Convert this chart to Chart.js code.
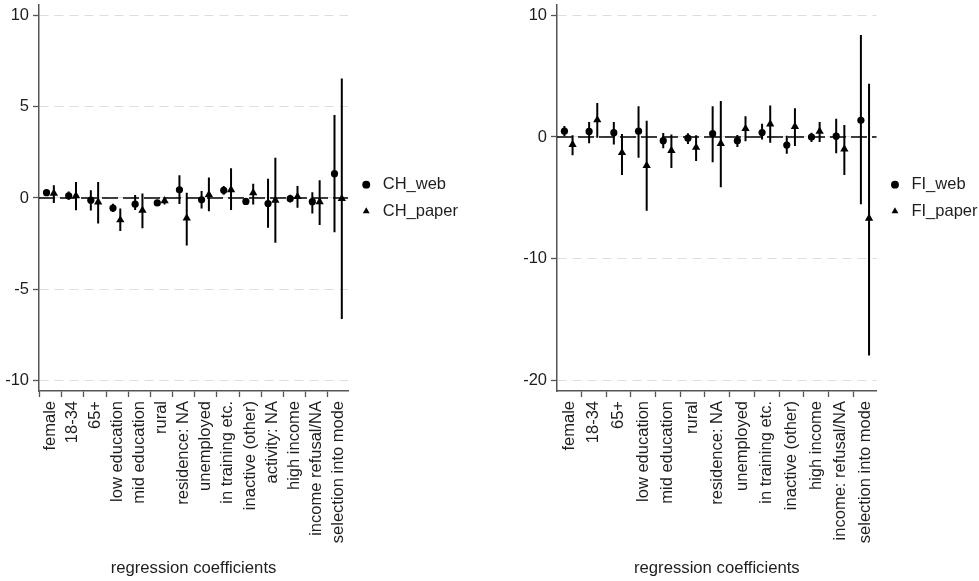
<!DOCTYPE html>
<html>
<head>
<meta charset="utf-8">
<script src="https://cdn.jsdelivr.net/npm/chart.js@4.4.1/dist/chart.umd.min.js"></script>
<style>
  html, body { margin: 0; padding: 0; background: #fff; overflow: hidden; width: 979px; height: 581px; }
  #c1 { position: absolute; left: 0; top: 0; }
  #c2 { position: absolute; left: 490px; top: 0; }
</style>
</head>
<body>
<canvas id="c1" width="490" height="581"></canvas>
<canvas id="c2" width="500" height="581"></canvas>
<script>
// ---------- data: Switzerland (CH) ----------
const chCategories = ['female', '18-34', '65+', 'low education', 'mid education', 'rural', 'residence: NA',
  'unemployed', 'in training etc.', 'inactive (other)', 'activity: NA', 'high income', 'income refusal/NA', 'selection into mode'];
const chWeb      = [0.29, 0.12, -0.12, -0.55, -0.34, -0.27, 0.45, -0.10, 0.42, -0.19, -0.30, -0.04, -0.20, 1.33];
const chWebLow   = [0.12, -0.10, -0.68, -0.76, -0.66, -0.42, -0.33, -0.58, 0.18, -0.36, -1.63, -0.25, -0.85, -1.87];
const chWebHigh  = [0.46, 0.35, 0.42, -0.31, 0.17, -0.12, 1.24, 0.38, 0.66, -0.02, 1.05, 0.18, 0.32, 4.53];
const chPaper     = [0.25, 0.12, -0.22, -1.20, -0.67, -0.15, -1.10, 0.18, 0.45, 0.28, -0.13, 0.07, -0.21, -0.04];
const chPaperLow  = [-0.27, -0.67, -1.40, -1.80, -1.65, -0.35, -2.60, -0.72, -0.66, -0.35, -2.44, -0.53, -1.47, -6.62];
const chPaperHigh = [0.70, 0.87, 0.87, -0.58, 0.24, 0.05, 0.28, 1.12, 1.62, 0.78, 2.20, 0.65, 0.97, 6.53];
const chYTicks = [-10, -5, 0, 5, 10];

// ---------- data: Finland (FI) ----------
const fiCategories = ['female', '18-34', '65+', 'low education', 'mid education', 'rural', 'residence: NA',
  'unemployed', 'in training etc.', 'inactive (other)', 'high income', 'income: refusal/NA', 'selection into mode'];
const fiWeb      = [0.48, 0.46, 0.35, 0.48, -0.30, -0.10, 0.27, -0.30, 0.36, -0.66, 0.00, 0.07, 1.37];
const fiWebLow   = [0.08, -0.52, -0.62, -1.70, -0.92, -0.57, -2.07, -0.82, -0.20, -1.38, -0.41, -1.33, -5.53];
const fiWebHigh  = [0.90, 1.23, 1.23, 2.52, 0.32, 0.30, 2.52, 0.17, 1.09, 0.11, 0.35, 1.50, 8.37];
const fiPaper     = [-0.62, 1.40, -1.29, -2.35, -1.12, -0.86, -0.54, 0.68, 1.06, 0.86, 0.46, -1.00, -6.67];
const fiPaperLow  = [-1.50, -0.06, -3.13, -6.05, -2.55, -1.97, -4.12, -0.34, -0.48, -0.74, -0.41, -3.13, -17.93];
const fiPaperHigh = [0.14, 2.79, 0.25, 1.33, 0.20, 0.14, 2.96, 1.70, 2.59, 2.35, 1.23, 0.98, 4.37];
const fiYTicks = [-20, -10, 0, 10];

// ---------- styling ----------
const FONT = '"Liberation Sans", Arial, Helvetica, sans-serif';
const TEXT = '#1e1e1e';
const AXIS = '#555555';
const webOffset = -0.19;
const paperOffset = 0.14;

function buildChart(el, p) {
  const pts = (vals, off) => vals.map((v, i) => ({ x: i + off, y: v }));
  const ci = (lo, hi, off) => lo.map((l, i) => ({ x: i + off, y: [l, hi[i]] }));
  const font = { family: FONT, size: 16.5 };
  return new Chart(el, {
    type: 'scatter',
    data: {
      datasets: [
        { label: p.webLabel, data: pts(p.web, webOffset), pointStyle: 'circle', pointRadius: 3.6,
          backgroundColor: '#000', borderColor: '#000', borderWidth: 0, order: 1 },
        { label: p.paperLabel, data: pts(p.paper, paperOffset), pointStyle: 'triangle', pointRadius: 4.8,
          backgroundColor: '#000', borderColor: '#000', borderWidth: 0, order: 1 },
        { type: 'bar', label: 'ci web', data: ci(p.webLow, p.webHigh, webOffset), barThickness: 2, grouped: false,
          backgroundColor: '#000', borderWidth: 0, inflateAmount: 0, order: 2 },
        { type: 'bar', label: 'ci paper', data: ci(p.paperLow, p.paperHigh, paperOffset), barThickness: 2, grouped: false,
          backgroundColor: '#000', borderWidth: 0, inflateAmount: 0, order: 2 },
        { type: 'line', label: 'zero', data: [{ x: p.xMin, y: 0 }, { x: p.xMax, y: 0 }], borderColor: '#000',
          borderWidth: 1.3, borderDash: [16, 5], pointRadius: 0, fill: false, order: 3 }
      ]
    },
    options: {
      responsive: false, animation: false, events: [],
      layout: { padding: { top: 3.2, left: 0, bottom: 0, right: p.padRight } },
      plugins: {
        tooltip: { enabled: false },
        legend: {
          position: 'right', fullSize: false,
          labels: { usePointStyle: true, boxHeight: 5.6, padding: 10, color: TEXT, font: font,
            filter: (item) => item.datasetIndex < 2 }
        }
      },
      scales: {
        x: {
          type: 'linear', min: p.xMin, max: p.xMax, offset: false,
          afterBuildTicks: (s) => { s.ticks = p.categories.map((c, i) => ({ value: i })); },
          afterFit: (s) => { s.height = 190; s.paddingLeft = 0; s.paddingRight = 0; },
          ticks: { autoSkip: false, minRotation: 90, maxRotation: 90, padding: 4, color: TEXT, font: font,
            callback: (v) => p.categories[v] },
          grid: { drawOnChartArea: false, drawTicks: true, tickLength: 6, tickColor: AXIS, tickWidth: 1.3 },
          border: { color: AXIS, width: 1.5 },
          title: { display: true, text: 'regression coefficients', color: TEXT, font: { family: FONT, size: 16.7 },
            padding: { top: 4, bottom: 3 } }
        },
        y: {
          type: 'linear', min: p.yMin, max: p.yMax,
          afterBuildTicks: (s) => { s.ticks = p.yTicks.map((v) => ({ value: v })); },
          afterFit: (s) => { s.width = p.yAxisWidth; s.paddingTop = 0; s.paddingBottom = 0; },
          ticks: { padding: 4, color: TEXT, font: font, callback: (v) => String(v) },
          grid: { color: '#dddddd', lineWidth: 1, drawTicks: true, tickLength: 6, tickColor: AXIS, tickWidth: 1.3 },
          border: { color: AXIS, width: 1.5, dash: [9, 6] }
        }
      }
    }
  });
}

buildChart(document.getElementById('c1'), {
  categories: chCategories, web: chWeb, webLow: chWebLow, webHigh: chWebHigh,
  paper: chPaper, paperLow: chPaperLow, paperHigh: chPaperHigh, yTicks: chYTicks,
  webLabel: 'CH_web', paperLabel: 'CH_paper',
  xMin: -0.53, xMax: 13.42, yMin: -10.55, yMax: 10.56, yAxisWidth: 39, padRight: 26
});
buildChart(document.getElementById('c2'), {
  categories: fiCategories, web: fiWeb, webLow: fiWebLow, webHigh: fiWebHigh,
  paper: fiPaper, paperLow: fiPaperLow, paperHigh: fiPaperHigh, yTicks: fiYTicks,
  webLabel: 'FI_web', paperLabel: 'FI_paper',
  xMin: -0.49, xMax: 12.45, yMin: -20.85, yMax: 10.85, yAxisWidth: 67, padRight: 2.5
});
</script>
</body>
</html>
